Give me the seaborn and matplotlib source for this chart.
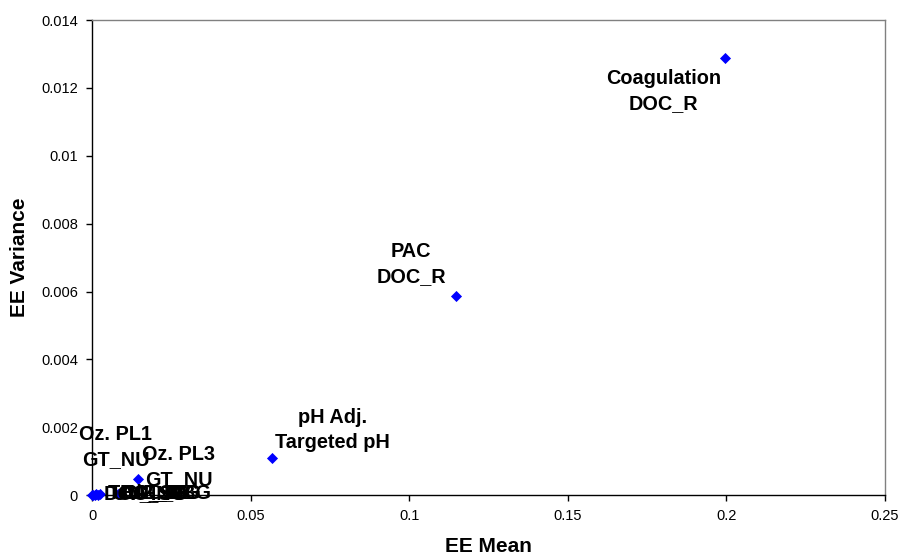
import matplotlib
matplotlib.use("Agg")
import matplotlib.pyplot as plt
import seaborn as sns
import pandas as pd

# ---- data ----
labels = [
    "Coagulation\nDOC_R",
    "PAC\nDOC_R",
    "pH Adj.\nTargeted pH",
    "Oz. PL3\nGT_NU",
    "Oz. PL1\nGT_NU",
    "DOC_SG",
    "TOC_SG",
    "UV_ING",
    "BAC_TG",
    "MF_DBG",
    "Cl2_ING",
]
ee_mean = [0.1995, 0.1148, 0.0567, 0.0145, 0.0025, 0.0001, 0.0004, 0.0008, 0.0012, 0.0018, 0.0082]
ee_variance = [0.01288, 0.00587, 0.00109, 0.00048, 0.00002, 0.0, 0.00001, 0.0, 0.00002, 0.00001, 0.00003]
x_ticks = [0, 0.05, 0.1, 0.15, 0.2, 0.25]
x_tick_labels = ["0", "0.05", "0.1", "0.15", "0.2", "0.25"]
y_ticks = [0, 0.002, 0.004, 0.006, 0.008, 0.01, 0.012, 0.014]
y_tick_labels = ["0", "0.002", "0.004", "0.006", "0.008", "0.01", "0.012", "0.014"]

# label offsets (pixels) and alignment
offsets = [(-61, -33), (-45, 32), (61, 28), (41, 12), (16, 47),
           (11, 2), (14, 2), (18, 2), (24, 2), (30, 2), (4, 2)]
aligns = ["center"] * 5 + ["left"] * 6

df = pd.DataFrame({"EE Mean": ee_mean, "EE Variance": ee_variance, "label": labels})

sns.set_style("white")
plt.rcParams["font.family"] = ["Liberation Sans", "DejaVu Sans"]
plt.rcParams["text.color"] = "black"
plt.rcParams["axes.labelcolor"] = "black"
plt.rcParams["xtick.color"] = "black"
plt.rcParams["ytick.color"] = "black"

fig = plt.figure(figsize=(9.02, 5.57), dpi=100)
ax = fig.add_axes([0.102, 0.111, 0.879, 0.853])

sns.scatterplot(data=df, x="EE Mean", y="EE Variance", ax=ax, marker="D",
                color="#0000FF", s=32, linewidth=0, clip_on=False, zorder=3)

for lab, xm, yv, off, ha in zip(labels, ee_mean, ee_variance, offsets, aligns):
    ax.annotate(lab, (xm, yv), xytext=off, textcoords="offset pixels",
                ha=ha, va="center", fontsize=14.3, fontweight="bold", color="black",
                multialignment="center", linespacing=1.4, annotation_clip=False)

ax.set_xlim(0, 0.25)
ax.set_ylim(0, 0.014)
ax.set_xticks(x_ticks)
ax.set_xticklabels(x_tick_labels)
ax.set_yticks(y_ticks)
ax.set_yticklabels(y_tick_labels)
ax.tick_params(axis="both", which="major", direction="out", length=4, width=1,
               color="black", labelcolor="black", labelsize=10.5, pad=6,
               bottom=True, left=True)

ax.set_xlabel("EE Mean", fontsize=15, fontweight="bold", labelpad=10, color="black")
ax.set_ylabel("EE Variance", fontsize=15, fontweight="bold", labelpad=9, color="black")

for side in ["left", "bottom"]:
    ax.spines[side].set_color("black")
    ax.spines[side].set_linewidth(1)
for side in ["top", "right"]:
    ax.spines[side].set_color("#808080")
    ax.spines[side].set_linewidth(1)
ax.grid(False)

fig.savefig("out.png", dpi=100, facecolor="white")
